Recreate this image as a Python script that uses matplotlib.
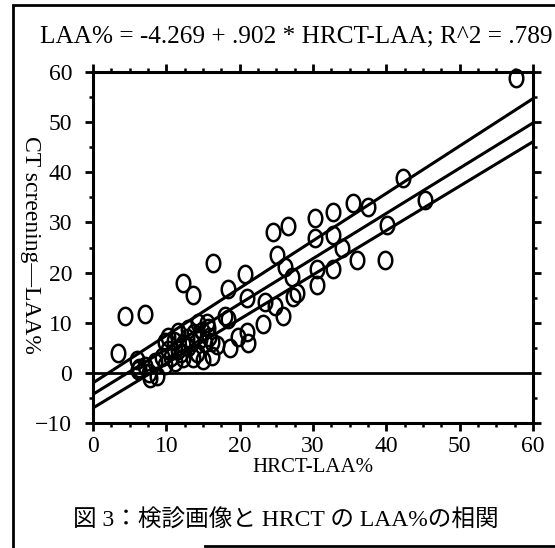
import numpy as np
import matplotlib
matplotlib.use("Agg")
import matplotlib.pyplot as plt
from matplotlib.path import Path
from matplotlib.patches import Rectangle
from matplotlib.lines import Line2D

# data (HRCT-LAA%, CT screening LAA%)
hrct = [57.7, 42.3, 45.3, 35.5, 37.5, 32.7, 30.3, 26.6, 24.5, 40.1,
        30.3, 32.7, 34.0, 36.0, 39.8, 32.7, 30.5, 30.5, 27.8, 25.1,
        26.2, 27.1, 27.3, 25.9, 24.8, 23.5, 23.2, 20.7, 21.0, 18.4,
        16.4, 12.3, 13.6, 4.4, 7.1, 3.4, 18.4, 19.8, 21.0, 21.1,
        18.7, 16.9, 15.5, 18.0,
        6.0, 6.3, 7.1, 7.6, 8.5, 8.7, 9.4, 9.8, 10.2, 10.2,
        9.8, 11.2, 11.6, 11.6, 12.3, 12.3, 12.8, 13.0, 13.6, 13.5,
        14.2, 14.3, 14.6, 15.0, 15.3, 15.7, 16.2, 16.2, 12.9, 6.1,
        7.8, 11.0, 13.8, 14.8, 12.0, 10.6, 15.8]
ct = [58.8, 38.8, 34.5, 33.9, 33.1, 32.1, 30.9, 29.3, 28.0, 29.5,
      26.9, 27.5, 24.9, 22.5, 22.5, 20.7, 17.5, 20.7, 15.9, 23.5,
      21.1, 19.1, 15.1, 11.3, 13.3, 14.1, 9.8, 19.7, 14.9, 16.7,
      21.9, 17.9, 15.5, 11.3, 11.7, 4.0, 10.7, 7.2, 8.2, 6.0,
      5.0, 5.5, 10.0, 11.4,
      2.6, 1.0, 1.4, 0.0, 2.2, -0.6, 3.2, 1.6, 7.2, 4.6,
      6.2, 2.2, 8.2, 4.6, 3.0, 5.8, 7.0, 5.2, 3.0, 6.2,
      4.0, 10.0, 6.8, 2.6, 6.0, 9.0, 3.4, 6.2, 8.8, 0.6,
      -1.0, 6.4, 8.0, 8.4, 4.0, 3.2, 7.2]

# regression from the header, band ends
intercept = -4.269
slope = 0.902
fit_x = [0, 60]
upper = [-2.0, 54.7]
lower = [-7.0, 46.1]

xticks = [0, 10, 20, 30, 40, 50, 60]
yticks = [-10, 0, 10, 20, 30, 40, 50, 60]

serif = ["Liberation Serif", "DejaVu Serif"]
plt.rcParams["font.family"] = serif

fig = plt.figure(figsize=(5.55, 5.48), dpi=100)
ax = fig.add_axes([0.1676, 0.2281, 0.7928, 0.6405])

t = np.linspace(0, 2 * np.pi, 60)
ell = Path(np.column_stack([0.78 * np.cos(t), np.sin(t)]), closed=True)

ax.axhline(0, color="black", lw=2)
fx = np.array(fit_x)
ax.plot(fx, intercept + slope * fx, color="black", lw=2.2)
ax.plot(fit_x, upper, color="black", lw=2.2)
ax.plot(fit_x, lower, color="black", lw=2.2)
ax.plot(hrct, ct, linestyle="none", marker=ell, ms=12.5, mfc="none",
        mec="black", mew=1.8, clip_on=False)

ax.set_xlim(0, 60)
ax.set_ylim(-10, 60)
ax.set_xticks(xticks)
ax.set_yticks(yticks)
ax.set_xticks(np.arange(0, 60.1, 2.5), minor=True)
ax.set_yticks(np.arange(-10, 60.1, 5), minor=True)
for s in ax.spines.values():
    s.set_linewidth(2.2)
ax.tick_params(which="both", direction="out", top=True, right=True,
               labelsize=17, width=2, color="black")
ax.tick_params(which="major", length=6)
ax.tick_params(axis="y", which="major", pad=9)
ax.tick_params(axis="x", which="major", pad=3)
ax.tick_params(which="minor", length=3, width=1.8)

ax.set_xlabel("HRCT-LAA%", fontsize=15, labelpad=1)
fig.text(30 / 555, 1 - 245 / 548, "CT screening\u2014LAA%", fontsize=17,
         rotation=270, ha="center", va="center")

fig.text(0.533, 0.932, "LAA% = -4.269 + .902 * HRCT-LAA; R^2 = .789",
         ha="center", va="center", fontsize=18.2)
fig.text(0.515, 0.05, "図 3：検診画像と HRCT の LAA%の相関",
         ha="center", va="center", fontsize=17,
         family=["Liberation Serif", "Noto Sans CJK JP"])

# outer frame
fig.patches.append(Rectangle((0.024, -0.1), 1.1, 1.09, transform=fig.transFigure,
                             fill=False, lw=2, ec="black"))
fig.lines.append(Line2D([0.37, 1.0], [0.004, 0.004], transform=fig.transFigure,
                        color="black", lw=2))

fig.savefig("out.png", dpi=100)
